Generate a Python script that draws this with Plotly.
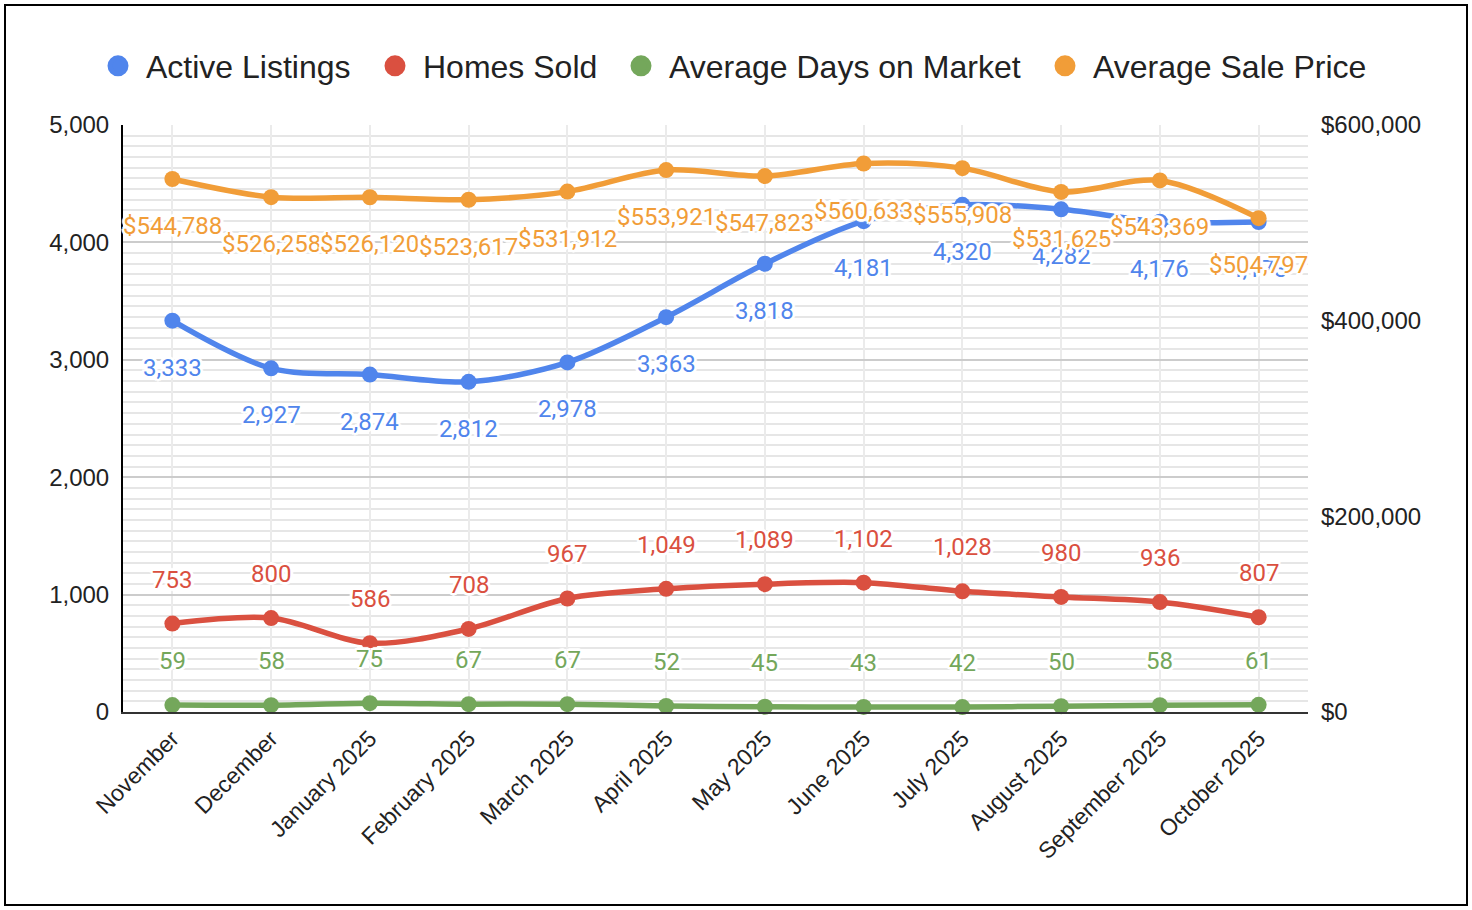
import plotly.graph_objects as go

months = ["November", "December", "January 2025", "February 2025", "March 2025",
          "April 2025", "May 2025", "June 2025", "July 2025", "August 2025",
          "September 2025", "October 2025"]
active_listings = [3333, 2927, 2874, 2812, 2978, 3363, 3818, 4181, 4320, 4282, 4176, 4173]
homes_sold = [753, 800, 586, 708, 967, 1049, 1089, 1102, 1028, 980, 936, 807]
avg_days = [59, 58, 75, 67, 67, 52, 45, 43, 42, 50, 58, 61]
avg_price = [544788, 526258, 526120, 523617, 531912, 553921, 547823, 560633,
             555908, 531625, 543369, 504797]

left_ticks = [0, 1000, 2000, 3000, 4000, 5000]
right_ticks = [0, 200000, 400000, 600000]

C_BLUE = "#5085EC"
C_RED = "#DA5040"
C_GREEN = "#74A75B"
C_ORANGE = "#F19D38"

W, H = 1472, 910
L, R, T, B = 123, 1308, 125, 712
FONT = '"Liberation Sans", Arial, sans-serif'

series = [
    ("Active Listings", active_listings, C_BLUE, "y", -47, ""),
    ("Homes Sold", homes_sold, C_RED, "y", 44, ""),
    ("Average Days on Market", avg_days, C_GREEN, "y", 44, ""),
    ("Average Sale Price", avg_price, C_ORANGE, "y2", -47, "$"),
]
legend_symbol_x = [118, 395, 641, 1065]

fig = go.Figure()
for name, vals, col, yax, _, _ in series:
    fig.add_trace(go.Scatter(
        x=months, y=vals, name=name, mode="lines+markers",
        line=dict(color=col, width=5.5, shape="spline", smoothing=0.9),
        marker=dict(color=col, size=16),
        yaxis=yax, showlegend=False, cliponaxis=False,
    ))

legend_layouts = {}
for i, (name, vals, col, yax, _, _) in enumerate(series):
    lg = "legend" if i == 0 else f"legend{i + 1}"
    fig.add_trace(go.Scatter(
        x=[None], y=[None], name=name, mode="markers",
        marker=dict(color=col, size=16, line=dict(color=col, width=5)),
        showlegend=True, legend=lg,
    ))
    legend_layouts[lg] = dict(
        orientation="h", xref="container", yref="container",
        x=(legend_symbol_x[i] - 28) / W, xanchor="left",
        y=1 - 66 / H, yanchor="middle",
        font=dict(family=FONT, size=32, color="#222222"),
        itemsizing="trace", itemwidth=46, bgcolor="rgba(0,0,0,0)",
    )

halo = ("white 2px 0px 0px, white -2px 0px 0px, white 0px 2px 0px, white 0px -2px 0px, "
        "white 2px 2px 0px, white -2px -2px 0px, white 2px -2px 0px, white -2px 2px 0px, "
        "white 3px 0px 1px, white -3px 0px 1px, white 0px 3px 1px, white 0px -3px 1px")

annotations = []
for name, vals, col, yax, shift, prefix in series:
    for m, v in zip(months, vals):
        annotations.append(dict(
            x=m, y=v, xref="x", yref=yax, text=f"{prefix}{v:,}", showarrow=False,
            yshift=shift, xanchor="center", yanchor="middle",
            font=dict(family="Roboto", size=24, color=col, shadow=halo),
        ))

pw, ph = R - L, B - T
border = dict(type="rect", xref="paper", yref="paper",
              x0=(5 - L) / pw, x1=(1467 - L) / pw,
              y0=(B - 905) / ph, y1=(B - 5) / ph,
              line=dict(color="black", width=2), fillcolor="rgba(0,0,0,0)", layer="above")

fig.update_layout(
    width=W, height=H,
    margin=dict(l=L, r=W - R, t=T, b=H - B, pad=0),
    paper_bgcolor="white", plot_bgcolor="white",
    font=dict(family=FONT, color="#222222", size=24),
    showlegend=True,
    xaxis=dict(type="category", range=[-0.5, len(months) - 0.5],
               showgrid=True, gridcolor="#EBEBEB", gridwidth=1.5,
               showline=True, linecolor="#333333", linewidth=2,
               tickangle=-45, ticks="", ticklabelstandoff=2,
               tickfont=dict(family=FONT, size=23, color="#222222"), zeroline=False),
    yaxis=dict(range=[0, 5000], tickvals=left_ticks,
               ticktext=[f"{v:,}" for v in left_ticks],
               showgrid=True, gridcolor="#CCCCCC", gridwidth=1.5,
               showline=True, linecolor="black", linewidth=2,
               zeroline=False, ticks="", ticklabelstandoff=7,
               tickfont=dict(family=FONT, size=24, color="#222222"),
               minor=dict(dtick=1000 / 11, tick0=0, showgrid=True,
                          gridcolor="#E6E6E6", gridwidth=1.5)),
    yaxis2=dict(range=[0, 600000], tickvals=right_ticks,
                ticktext=[f"${v:,}" for v in right_ticks],
                overlaying="y", side="right",
                showgrid=False, zeroline=False, showline=False, ticks="",
                ticklabelstandoff=12, tickfont=dict(family=FONT, size=24, color="#222222")),
    annotations=annotations,
    shapes=[border],
    **legend_layouts,
)

fig.write_html("out.html", config={"displayModeBar": False},
               post_script="document.body.style.margin='0';")
